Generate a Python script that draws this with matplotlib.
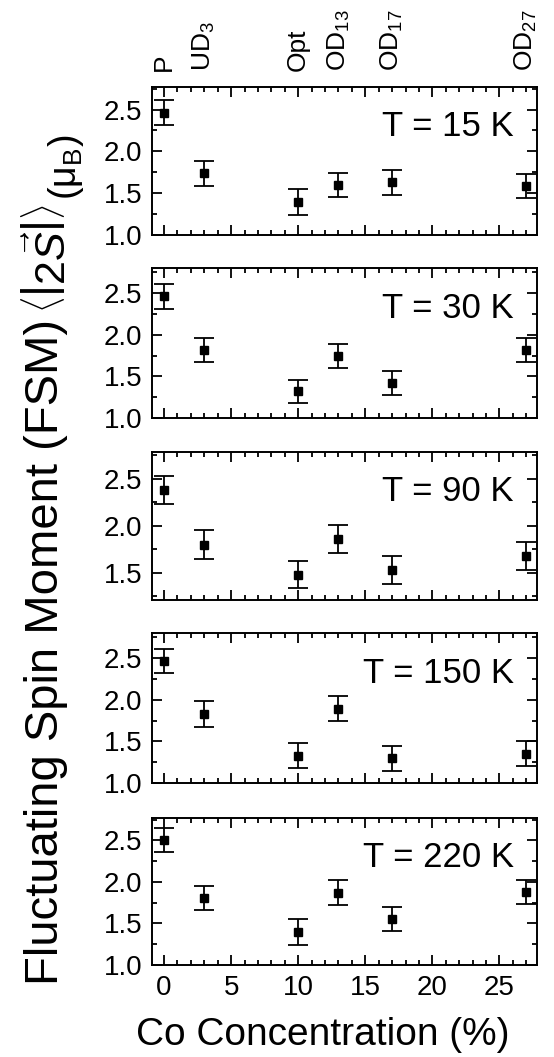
import numpy as np
import matplotlib
matplotlib.use("Agg")
import matplotlib.pyplot as plt
from matplotlib.ticker import MultipleLocator

plt.rcParams["font.family"] = ["Liberation Sans", "DejaVu Sans"]
plt.rcParams["mathtext.fontset"] = "custom"
plt.rcParams["mathtext.rm"] = "Liberation Sans"
plt.rcParams["mathtext.it"] = "Liberation Sans:italic"
plt.rcParams["mathtext.bf"] = "Liberation Sans:bold"

# Co concentration (%) of each sample
co = [0, 3, 10, 13, 17, 27]
samples = ["P", "UD$_3$", "Opt", "OD$_{13}$", "OD$_{17}$", "OD$_{27}$"]
temps = ["15", "30", "90", "150", "220"]

# FSM values and error half-widths, one row per temperature
fsm = [
    [2.46, 1.74, 1.39, 1.60, 1.63, 1.59],
    [2.46, 1.82, 1.32, 1.74, 1.42, 1.82],
    [2.38, 1.80, 1.48, 1.86, 1.53, 1.68],
    [2.46, 1.83, 1.33, 1.89, 1.30, 1.35],
    [2.50, 1.81, 1.40, 1.87, 1.55, 1.88],
]
err = [
    [0.15, 0.15, 0.155, 0.145, 0.15, 0.145],
    [0.15, 0.145, 0.14, 0.145, 0.145, 0.145],
    [0.145, 0.15, 0.145, 0.15, 0.145, 0.15],
    [0.145, 0.16, 0.15, 0.15, 0.15, 0.15],
    [0.145, 0.145, 0.155, 0.15, 0.145, 0.145],
]
ylims = [(1.0, 2.77), (1.0, 2.8), (1.21, 2.785), (1.0, 2.8), (1.0, 2.77)]

W, H = 554, 1057
fig = plt.figure(figsize=(W / 100, H / 100), dpi=100)

# panel frames in pixels (top, bottom)
frames = [(87, 235), (268, 418), (452, 600), (633, 783), (818, 965)]
left, right = 152, 537

axes = []
for i, (top, bot) in enumerate(frames):
    ax = fig.add_axes([left / W, 1 - bot / H, (right - left) / W, (bot - top) / H])
    ax.errorbar(co, fsm[i], yerr=err[i], fmt="s", color="black", ms=6,
                elinewidth=1.3, capsize=7, capthick=1.3)
    ax.set_xlim(-0.9, 27.8)
    ax.set_ylim(*ylims[i])
    ax.xaxis.set_major_locator(MultipleLocator(5))
    ax.xaxis.set_minor_locator(MultipleLocator(1))
    ax.yaxis.set_major_locator(MultipleLocator(0.5))
    ax.yaxis.set_minor_locator(MultipleLocator(0.25))
    ax.yaxis.set_major_formatter(plt.FormatStrFormatter("%.1f"))
    ax.tick_params(which="both", direction="in", top=True, right=True,
                   width=1.3, labelsize=20)
    ax.tick_params(which="major", length=7, pad=7)
    ax.tick_params(which="minor", length=3.5)
    for s in ax.spines.values():
        s.set_linewidth(1.4)
    if i < len(frames) - 1:
        ax.tick_params(labelbottom=False)
    ax.text(0.94, 0.73, f"T = {temps[i]} K", transform=ax.transAxes,
            ha="right", va="center", fontsize=25)
    axes.append(ax)

# sample names above the top panel
top_ax = axes[0]
for x, name in zip(co, samples):
    top_ax.text(x, 1.11, name, transform=top_ax.get_xaxis_transform(),
                rotation=90, ha="center", va="bottom", fontsize=19)

fig.text(323 / W, 1 - 1035 / H, "Co Concentration (%)", ha="center",
         va="center", fontsize=28)

# y label built from three rotated pieces, stacked bottom to top
renderer = fig.canvas.get_renderer()
words = fig.text(46 / W, 1 - 985 / H, "Fluctuating Spin Moment (FSM)",
                 rotation=90, ha="center", va="bottom", fontsize=34)
y_next = words.get_window_extent(renderer).y1 + 6
moment = fig.text(50 / W, y_next / H, r"$\left\langle\left|2\vec{S}\right|\right\rangle$",
                  rotation=90, ha="center", va="bottom", fontsize=31)
y_next = moment.get_window_extent(renderer).y1 + 4
fig.text(66 / W, y_next / H, "(μ$_\\mathrm{B}$)",
         rotation=90, ha="center", va="bottom", fontsize=27)

fig.savefig("out.png", dpi=100)
